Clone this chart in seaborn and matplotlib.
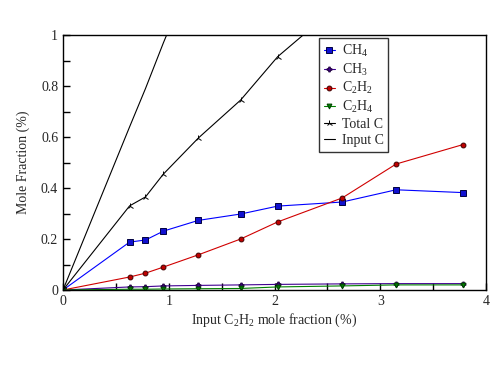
import matplotlib
matplotlib.use("Agg")
import matplotlib.pyplot as plt
import seaborn as sns
import pandas as pd

x_input = [0, 0.63, 0.78, 0.95, 1.28, 1.68, 2.03, 2.64, 3.15, 3.78]
ch4 = [0, 0.188, 0.196, 0.231, 0.273, 0.298, 0.329, 0.345, 0.393, 0.382]
ch3 = [0, 0.012, 0.013, 0.016, 0.018, 0.020, 0.022, 0.024, 0.025, 0.025]
c2h2 = [0, 0.051, 0.066, 0.090, 0.138, 0.200, 0.267, 0.361, 0.494, 0.570]
c2h4 = [0, 0.003, 0.003, 0.004, 0.005, 0.006, 0.012, 0.016, 0.020, 0.020]
total_c = [0, 0.330, 0.365, 0.455, 0.596, 0.745, 0.915, 1.13, 1.46, 1.60]
input_c = [0, 0.64, 0.79, 0.97, 1.30, 1.71, 2.07, 2.69, 3.21, 3.86]

names = ["CH$_4$", "CH$_3$", "C$_2$H$_2$", "C$_2$H$_4$", "Total C", "Input C"]
series = [ch4, ch3, c2h2, c2h4, total_c, input_c]

sns.set_style("ticks")
plt.rcParams["font.family"] = ["Liberation Serif", "DejaVu Serif"]
plt.rcParams["mathtext.fontset"] = "custom"
plt.rcParams["mathtext.rm"] = "Liberation Serif"
plt.rcParams["mathtext.it"] = "Liberation Serif"

rows = []
for n, vals in zip(names, series):
    for xv, yv in zip(x_input, vals):
        rows.append({"x": xv, "y": yv, "series": n})
df = pd.DataFrame(rows)

fig = plt.figure(figsize=(4.99, 3.67), dpi=100)
ax = fig.add_axes([63/499, 1-290/367, (486-63)/499, (290-35)/367])

styles = {
    "CH$_4$": dict(color="#0000ff", marker="s", ms=3.8, mfc="#1010d0", mec="#000040"),
    "CH$_3$": dict(color="#400090", marker="P", ms=3.5, mfc="#400090", mec="#200040"),
    "C$_2$H$_2$": dict(color="#d00000", marker="o", ms=3.5, mfc="#c00000", mec="#400000"),
    "C$_2$H$_4$": dict(color="#008000", marker="v", ms=3.5, mfc="#008000", mec="#004000"),
    "Total C": dict(color="black", marker="2", ms=4.5, mfc="black", mec="black"),
    "Input C": dict(color="black", marker="", ms=0, mfc="black", mec="black"),
}

for n in names:
    st = styles[n]
    sub = df[df["series"] == n]
    sns.lineplot(data=sub, x="x", y="y", ax=ax, sort=False, color=st["color"],
                 lw=0.8, marker=st["marker"] if st["marker"] else None,
                 markersize=st["ms"], markerfacecolor=st["mfc"],
                 markeredgecolor=st["mec"], markeredgewidth=0.7, label=n,
                 clip_on=True)

ax.set_xlim(0, 4)
ax.set_ylim(0, 1)
ax.set_xticks([0, 1, 2, 3, 4])
ax.set_xticks([0.5, 1.5, 2.5, 3.5], minor=True)
ax.set_yticks([0, 0.2, 0.4, 0.6, 0.8, 1.0])
ax.set_yticklabels(["0", "0.2", "0.4", "0.6", "0.8", "1"])
ax.set_yticks([0.1, 0.3, 0.5, 0.7, 0.9], minor=True)
ax.tick_params(which="both", direction="in", labelsize=10, width=1, color="black")
ax.tick_params(which="major", length=5)
ax.tick_params(which="minor", length=5)
for s in ax.spines.values():
    s.set_visible(True)
    s.set_linewidth(1)
    s.set_color("black")

ax.set_xlabel("Input C$_2$H$_2$ mole fraction (%)", fontsize=10, labelpad=3)
ax.set_ylabel("Mole Fraction (%)", fontsize=10, labelpad=8)

leg = ax.legend(loc="upper left", bbox_to_anchor=((316-63)/423, 1.0),
                frameon=True, fancybox=False, edgecolor="black", fontsize=10,
                handlelength=0.8, handletextpad=0.5, labelspacing=0.2,
                borderpad=0.35, borderaxespad=0.2)
leg.get_frame().set_linewidth(1)

fig.savefig("out.png", dpi=100)
